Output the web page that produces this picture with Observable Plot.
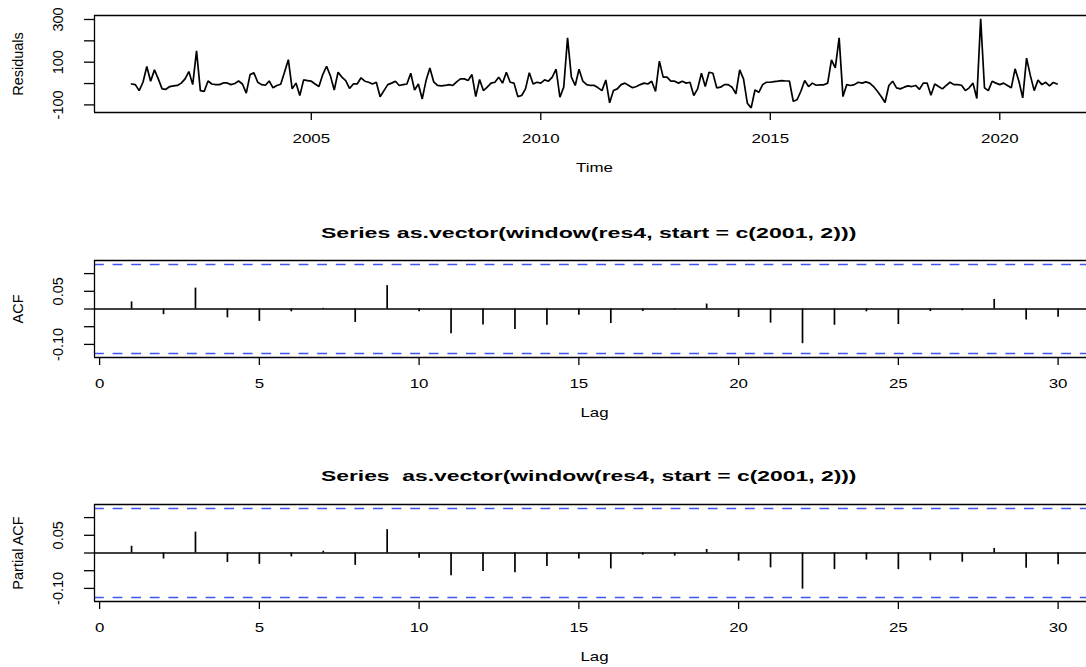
<!DOCTYPE html>
<html><head><meta charset="utf-8">
<script src="https://cdn.jsdelivr.net/npm/d3@7"></script>
<script src="https://cdn.jsdelivr.net/npm/@observablehq/plot@0.6"></script>
<style>
html,body{margin:0;padding:0;background:#fff;overflow:hidden}
#wrap{position:relative;width:1086px;height:667px;overflow:hidden;font-family:"Liberation Sans",Arial,Helvetica,sans-serif;color:#000}
.title{position:absolute;font-weight:bold;font-size:15px;line-height:15px;white-space:pre;transform-origin:center center;display:inline-block}
</style></head><body><div id="wrap"></div><script>
// ---------- data ----------
const residualStart = [2001, 2]; // year, month (monthly series)
const residuals = [
 -2,-5,-33,6,80,11,64,22,-25,-27,-14,-11,-9,2,22,56,-5,153,-33,-37,
 12,-2,-5,-5,3,3,-5,0,12,-2,-45,42,50,6,-5,-8,12,-20,-9,-3,
 53,112,-25,2,-56,17,14,11,-2,-14,42,81,36,-30,53,30,14,-23,-2,-2,
 27,11,6,-2,6,-62,-33,-5,2,11,-9,-5,-2,48,-30,-2,-72,14,73,8,
 -9,-11,-9,-5,-9,8,22,22,14,42,-61,19,-33,-17,2,6,30,2,53,6,
 2,-61,-56,-25,51,-2,6,2,17,11,30,67,-64,-17,214,30,-9,67,11,-5,
 -9,-9,-20,-33,17,-90,-33,-25,-5,2,-9,-20,-14,-5,2,-2,11,-37,105,30,
 30,11,11,2,11,2,6,-56,-25,48,-14,53,48,-20,-17,-5,-5,-17,-48,64,
 22,-92,-114,-30,-41,-5,6,6,9,11,14,12,12,-83,-76,-36,14,-14,2,-8,
 -6,-6,2,111,73,214,-61,-5,-9,-5,6,2,8,2,-14,-36,-61,-89,-9,11,
 -20,-25,-17,-11,-14,-9,-27,2,2,-55,-2,-14,-25,-9,6,-5,-5,-8,-33,-20,
 2,-70,303,-20,-33,11,2,-5,2,-9,-20,69,11,-67,119,37,-33,17,-5,6,
 -11,5,-2
];
const lags = [1,2,3,4,5,6,7,8,9,10,11,12,13,14,15,16,17,18,19,20,21,22,23,24,25,26,27,28,29,30];
const acfValues = [0.020,-0.016,0.059,-0.025,-0.035,-0.008,0.002,-0.038,0.066,-0.008,
 -0.070,-0.045,-0.058,-0.046,-0.018,-0.041,-0.007,-0.002,0.014,-0.024,
 -0.040,-0.098,-0.046,-0.008,-0.044,-0.007,-0.005,0.027,-0.031,-0.023];
const pacfValues = [0.019,-0.017,0.059,-0.027,-0.032,-0.011,0.005,-0.035,0.066,-0.015,
 -0.064,-0.052,-0.056,-0.038,-0.017,-0.045,-0.006,-0.009,0.010,-0.023,
 -0.042,-0.102,-0.047,-0.020,-0.047,-0.022,-0.026,0.013,-0.043,-0.033];
const confLimit = 0.1257;
const timeTicks = [2005, 2010, 2015, 2020];
const lagTicks = [0, 5, 10, 15, 20, 25, 30];
const residTicks = [-100, 0, 100, 200, 300];
const residTickLabels = ["-100", "", "100", "", "300"];
const corrTicks = [-0.10, -0.05, 0, 0.05, 0.10];
const corrTickLabels = ["-0.10", "", "", "0.05", ""];
const titles = ["Series as.vector(window(res4, start = c(2001, 2)))",
                "Series  as.vector(window(res4, start = c(2001, 2)))"];

// ---------- build ----------
const FONT = '"Liberation Sans", Arial, Helvetica, sans-serif';
const FS = 13.5;
const FSV = 14.5;
const STRETCH = 1.25;
const BLUE = "#3f55f0";
const wrap = document.getElementById("wrap");

const resData = residuals.map((v, i) => ({t: residualStart[0] + (residualStart[1] - 1 + i) / 12, v}));
const acfData = lags.map((l, i) => ({lag: l, value: acfValues[i]}));
const pacfData = lags.map((l, i) => ({lag: l, value: pacfValues[i]}));

function labeler(ticks, labels) {
  const m = new Map(ticks.map((t, i) => [+t.toFixed(6), labels[i]]));
  return d => m.get(+(+d).toFixed(6)) ?? "";
}

function boxMarks(xDom, yDom) {
  return [
    Plot.ruleY([yDom[0], yDom[1]], {stroke: "black", strokeWidth: 1.3}),
    Plot.ruleX([xDom[0]], {stroke: "black", strokeWidth: 1.3})
  ];
}

function panel({top, height, marginTop, marginBottom, xDom, yDom, xTicks, yTicks, yLabels, xlab, ylab, marks}) {
  const svg = Plot.plot({
    width: 1086, height, marginLeft: 94, marginRight: 0, marginTop, marginBottom,
    style: {fontFamily: FONT, fontSize: FS + "px", color: "#000", background: "transparent", overflow: "visible"},
    x: {type: "linear", domain: xDom},
    y: {type: "linear", domain: yDom},
    marks: [
      ...marks,
      ...boxMarks(xDom, yDom),
      Plot.axisX({ticks: xTicks, tickSize: 8, tickPadding: 13, tickFormat: d => String(d), label: null, fontSize: FS, strokeWidth: 1.3}),
      Plot.axisY({ticks: yTicks, tickSize: 10, tickRotate: -90, tickPadding: 22, tickFormat: labeler(yTicks, yLabels), label: null, fontSize: FSV, strokeWidth: 1.3}),
      Plot.text([xlab], {frameAnchor: "bottom", dy: 55, dx: 4, fontSize: FS, textAnchor: "middle", lineAnchor: "middle", text: d => d}),
      Plot.text([ylab], {frameAnchor: "left", dx: -76, rotate: -90, fontSize: FSV, textAnchor: "middle", lineAnchor: "middle", text: d => d})
    ]
  });
  svg.style.position = "absolute";
  svg.style.left = "0px";
  svg.style.top = top + "px";
  wrap.appendChild(svg);
  return svg;
}

// Panel 1: residual time series
const tsX = [2000.277, 2000.277 + 992 / 45.9];
panel({
  top: 0, height: 185, marginTop: 15, marginBottom: 73,
  xDom: tsX, yDom: [-135.6, 318.7],
  xTicks: timeTicks, yTicks: residTicks, yLabels: residTickLabels,
  xlab: "Time", ylab: "Residuals",
  marks: [Plot.line(resData, {x: "t", y: "v", stroke: "black", strokeWidth: 1.7, strokeLinejoin: "miter"})]
});

const lagX = [-0.16, -0.16 + 992 / 31.95];
const corrY = [-0.137, 0.137];
function corrMarks(data) {
  return [
    Plot.ruleY([0], {stroke: "black", strokeWidth: 1.3}),
    Plot.ruleY([confLimit, -confLimit], {stroke: BLUE, strokeWidth: 1.6, strokeDasharray: "9.8,8.8"}),
    Plot.ruleX(data, {x: "lag", y1: 0, y2: "value", stroke: "black", strokeWidth: 1.7})
  ];
}
panel({
  top: 245.4, height: 185, marginTop: 15, marginBottom: 73,
  xDom: lagX, yDom: corrY, xTicks: lagTicks, yTicks: corrTicks, yLabels: corrTickLabels,
  xlab: "Lag", ylab: "ACF", marks: corrMarks(acfData)
});
panel({
  top: 488.8, height: 178, marginTop: 15, marginBottom: 66,
  xDom: lagX, yDom: corrY, xTicks: lagTicks, yTicks: corrTicks, yLabels: corrTickLabels,
  xlab: "Lag", ylab: "Partial ACF", marks: corrMarks(pacfData)
});

// reference text is horizontally stretched: widen non-rotated texts
wrap.querySelectorAll("svg text").forEach(t => {
  if (t.closest('[transform*="rotate"]')) return;
  const len = t.getComputedTextLength();
  if (len > 0) {
    t.setAttribute("textLength", (len * STRETCH).toFixed(2));
    t.setAttribute("lengthAdjust", "spacingAndGlyphs");
  }
});

// titles
const titleCenters = [232, 475.5];
titles.forEach((s, i) => {
  const d = document.createElement("div");
  d.className = "title";
  d.textContent = s;
  wrap.appendChild(d);
  const w = d.offsetWidth;
  const sx = 535 / w;
  d.style.left = (588 - w / 2) + "px";
  d.style.top = (titleCenters[i] - 7.5) + "px";
  d.style.transform = `scaleX(${sx.toFixed(3)})`;
});
</script></body></html>
